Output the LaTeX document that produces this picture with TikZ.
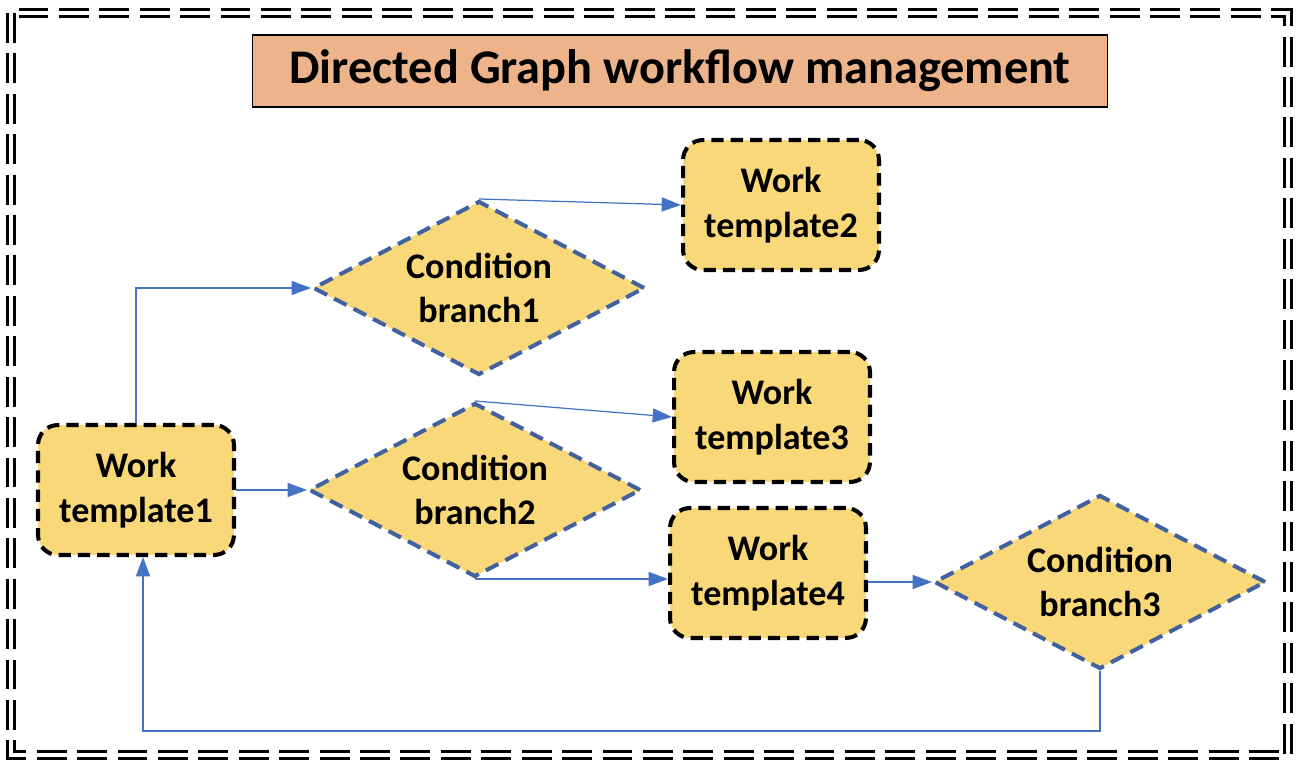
\documentclass[tikz,border=0pt]{standalone}
\usepackage{fontspec}
\setmainfont{Carlito}
\usetikzlibrary{shapes.geometric,arrows.meta}
\definecolor{tplfill}{HTML}{F9D87A}
\definecolor{condline}{HTML}{41619F}
\definecolor{flowblue}{HTML}{4472C4}
\definecolor{titlefill}{HTML}{EDB48B}
\begin{document}
\begin{tikzpicture}[x=0.02cm,y=-0.02cm,
  tpl/.style={draw,line width=2.3pt,dash pattern=on 7pt off 4pt,rounded corners=0.4cm,fill=tplfill,
    minimum width=3.92cm,minimum height=2.6cm,align=center,font=\fontsize{20.5}{25.5}\selectfont\bfseries},
  cond/.style={diamond,aspect=1.9,draw=condline,line width=2.3pt,dash pattern=on 8pt off 4.5pt,fill=tplfill,inner sep=0pt,
    minimum width=6.64cm,minimum height=3.48cm,align=center,font=\fontsize{20.5}{25.5}\selectfont\bfseries},
  flow/.style={flowblue,line width=0.7pt,-{Triangle[length=11pt,width=8pt]}}]
\useasboundingbox(0,0)rectangle(1302,770);
\draw[line width=1.7pt,double,double distance=2pt,dash pattern=on 17pt off 6pt](11,13)rectangle(1288,755);
\node[draw,line width=0.6pt,fill=titlefill,minimum width=17.12cm,minimum height=1.44cm,
  font=\fontsize{27.5}{31}\selectfont\bfseries](title)at(680,71){Directed Graph workflow management};
\node[tpl](t1)at(136,490){Work\\template1};
\node[tpl](t2)at(781,205){Work\\template2};
\node[tpl](t3)at(772,417){Work\\template3};
\node[tpl](t4)at(768,573){Work\\template4};
\node[cond](d1)at(479,288){Condition\\branch1};
\node[cond](d2)at(475,490){Condition\\branch2};
\node[cond](d3)at(1100,582){Condition\\branch3};
\draw[flow](t1.north)|-(d1.west);
\draw[flow](t1.east)--(d2.west);
\draw[flow](d1.north)--(t2.west);
\draw[flow](d2.north)--(t3.west);
\draw[flow](d2.south)--(d2.south-|t4.west);
\draw[flow](t4.east|-d3.west)--(d3.west);
\coordinate(back)at(143,731);
\draw[flow](d3.south)|-(back)--(back|-t1.south);
\end{tikzpicture}
\end{document}
